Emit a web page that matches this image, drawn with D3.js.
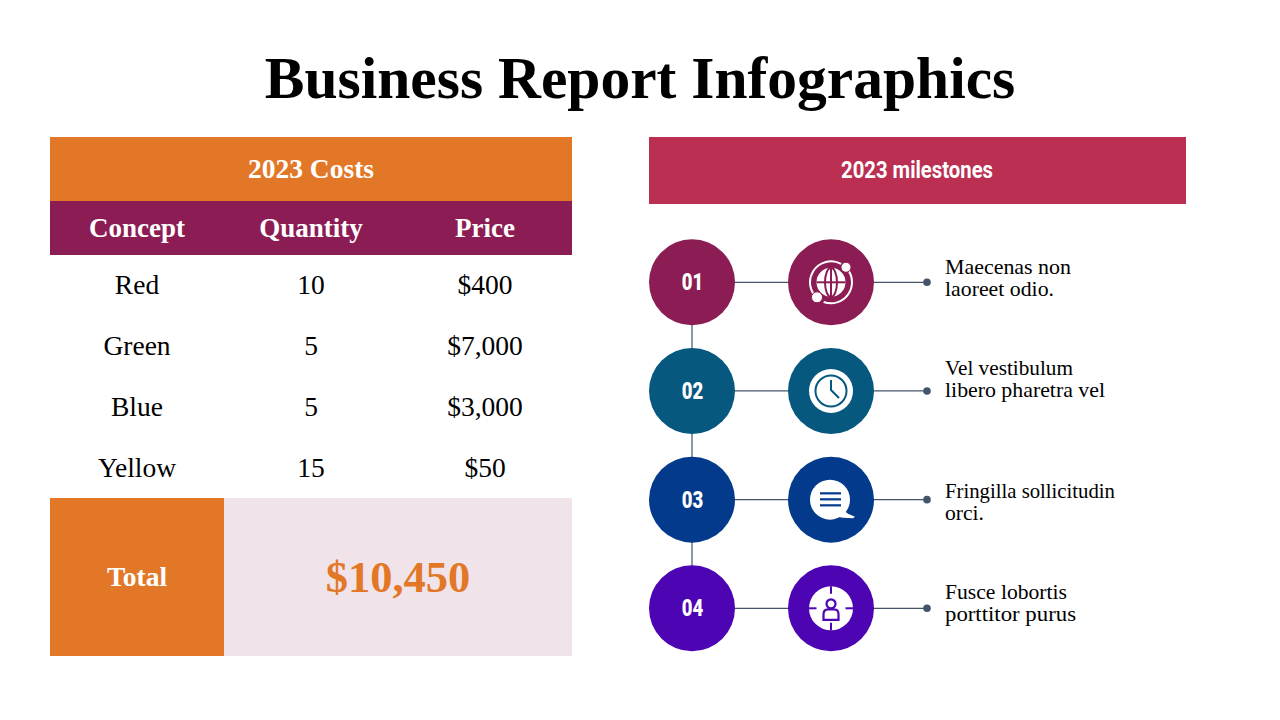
<!DOCTYPE html>
<html>
<head>
<meta charset="utf-8">
<script src="https://cdn.jsdelivr.net/npm/d3@7"></script>
<style>
html, body { margin: 0; padding: 0; background: #fff; }
svg { display: block; }
text { font-family: "Liberation Serif", serif; }
</style>
</head>
<body>
<svg id="chart" width="1280" height="720"></svg>
<script>
// table data
var columns = ["Concept", "Quantity", "Price"];
var concepts = ["Red", "Green", "Blue", "Yellow"];
var quantities = [10, 5, 5, 15];
var prices = [400, 7000, 3000, 50];
var totalCost = 10450;

// milestones data
var steps = ["01", "02", "03", "04"];
var stepColors = ["#8c1d54", "#07587f", "#033a8c", "#4d04b3"];
var stepText = [
    ["Maecenas non", "laoreet odio."],
    ["Vel vestibulum", "libero pharetra vel"],
    ["Fringilla sollicitudin", "orci."],
    ["Fusce lobortis", "porttitor purus"]
];

var ORANGE = "#e27827", PLUM = "#8c1d54", PINK = "#f0e4ea", ROSE = "#ba2f52", LINE = "#44546a";

var svg = d3.select("#chart");
var money = d3.format("$,");

svg.append("text")
    .attr("x", 640).attr("y", 98)
    .attr("text-anchor", "middle")
    .attr("font-size", 59.5).attr("font-weight", "bold")
    .text("Business Report Infographics");

// left table
var colX = d3.scaleBand().domain(columns).range([50, 572]);
var rowY = d3.scaleBand().domain(concepts).range([255, 498]);

svg.append("rect").attr("x", 50).attr("y", 137).attr("width", 522).attr("height", 64).attr("fill", ORANGE);
svg.append("rect").attr("x", 50).attr("y", 201).attr("width", 522).attr("height", 54).attr("fill", PLUM);

svg.append("text")
    .attr("x", 311).attr("y", 178)
    .attr("text-anchor", "middle").attr("fill", "#fff")
    .attr("font-size", 27.5).attr("font-weight", "bold")
    .text("2023 Costs");

svg.selectAll(".head").data(columns).enter().append("text")
    .attr("class", "head")
    .attr("x", function (d) { return colX(d) + colX.bandwidth() / 2; })
    .attr("y", 237)
    .attr("text-anchor", "middle").attr("fill", "#fff")
    .attr("font-size", 27).attr("font-weight", "bold")
    .text(function (d) { return d; });

var cells = [concepts, quantities, prices.map(function (p) { return money(p); })];
cells.forEach(function (col, i) {
    svg.selectAll(".c" + i).data(col).enter().append("text")
        .attr("class", "c" + i)
        .attr("x", colX(columns[i]) + colX.bandwidth() / 2)
        .attr("y", function (d, j) { return rowY(concepts[j]) + rowY.bandwidth() / 2 + 9; })
        .attr("text-anchor", "middle").attr("fill", "#000")
        .attr("font-size", 27.5)
        .text(function (d) { return d; });
});

// total row
svg.append("rect").attr("x", 50).attr("y", 498).attr("width", 174).attr("height", 158).attr("fill", ORANGE);
svg.append("rect").attr("x", 224).attr("y", 498).attr("width", 348).attr("height", 158).attr("fill", PINK);
svg.append("text")
    .attr("x", 137).attr("y", 586)
    .attr("text-anchor", "middle").attr("fill", "#fff")
    .attr("font-size", 27.5).attr("font-weight", "bold")
    .text("Total");
svg.append("text")
    .attr("x", 398).attr("y", 592)
    .attr("text-anchor", "middle").attr("fill", ORANGE)
    .attr("font-size", 44.5).attr("font-weight", "bold")
    .text(money(totalCost));

// right side
svg.append("rect").attr("x", 649).attr("y", 137).attr("width", 537).attr("height", 67).attr("fill", ROSE);
svg.append("text")
    .attr("x", 917).attr("y", 178)
    .attr("text-anchor", "middle").attr("fill", "#fff")
    .style("font-family", "Roboto")
    .attr("font-size", 23).attr("font-weight", "bold")
    .attr("textLength", 152).attr("lengthAdjust", "spacingAndGlyphs")
    .text("2023 milestones");

var y = d3.scalePoint().domain(steps).range([282.3, 608.3]);
var R = 43, X1 = 692, X2 = 831, DOT = 927;
var textShift = [-8, -16, -2, -9]; // the text blocks do not sit evenly on the rows
var textWidths = [[126, 109], [128, 160], [170, 39], [122, 131]]; // stops the fallback font running long

svg.append("line").attr("x1", X1).attr("x2", X1)
    .attr("y1", y("01")).attr("y2", y("04"))
    .attr("stroke", LINE).attr("stroke-width", 1.2);

var rows = svg.selectAll(".step").data(steps).enter().append("g")
    .attr("class", "step")
    .attr("transform", function (d) { return "translate(0," + y(d) + ")"; });

rows.append("line").attr("x1", X1).attr("x2", DOT).attr("stroke", LINE).attr("stroke-width", 1.2);
rows.append("circle").attr("cx", DOT).attr("r", 3.8).attr("fill", LINE);
rows.append("circle").attr("cx", X1).attr("r", R).attr("fill", function (d, i) { return stepColors[i]; });
rows.append("circle").attr("cx", X2).attr("r", R).attr("fill", function (d, i) { return stepColors[i]; });

rows.append("text")
    .attr("x", X1 + 0.5).attr("y", 8)
    .attr("text-anchor", "middle").attr("fill", "#fff")
    .style("font-family", "Roboto")
    .attr("font-size", 23).attr("font-weight", 900)
    .attr("textLength", 21.5).attr("lengthAdjust", "spacingAndGlyphs")
    .text(function (d) { return d; });

rows.each(function (d, i) {
    var row = d3.select(this);
    stepText[i].forEach(function (s, k) {
        row.append("text")
            .attr("x", 945).attr("y", textShift[i] + k * 22)
            .attr("font-size", 21.8).attr("fill", "#000")
            .attr("textLength", textWidths[i][k]).attr("lengthAdjust", "spacingAndGlyphs")
            .text(s);
    });
});

// icons, drawn around the centre of each second circle
var icons = rows.append("g").attr("transform", "translate(" + X2 + ",0)");
var ring = d3.arc();

// 01 globe
var g1 = d3.select(icons.nodes()[0]);
g1.append("circle").attr("r", 14.5).attr("fill", "#fff");
g1.append("ellipse").attr("rx", 6).attr("ry", 14.5).attr("fill", "none").attr("stroke", PLUM).attr("stroke-width", 2);
g1.append("line").attr("y1", -14.5).attr("y2", 14.5).attr("stroke", PLUM).attr("stroke-width", 2);
g1.append("line").attr("x1", -14.5).attr("x2", 14.5).attr("stroke", PLUM).attr("stroke-width", 2);
g1.append("path").attr("fill", "#fff")
    .attr("d", ring({ innerRadius: 20, outerRadius: 22, startAngle: -2.5, endAngle: 0.5 }));
g1.append("path").attr("fill", "#fff")
    .attr("d", ring({ innerRadius: 20, outerRadius: 22, startAngle: 0.9, endAngle: 3.5 }));
g1.append("circle").attr("cx", 15).attr("cy", -15).attr("r", 5).attr("fill", "#fff").attr("stroke", PLUM).attr("stroke-width", 1);
g1.append("circle").attr("cx", -14).attr("cy", 15).attr("r", 5.5).attr("fill", "#fff").attr("stroke", PLUM).attr("stroke-width", 1);

// 02 clock
var g2 = d3.select(icons.nodes()[1]);
g2.append("circle").attr("r", 22).attr("fill", "#fff");
g2.append("circle").attr("r", 15.5).attr("fill", "none").attr("stroke", stepColors[1]).attr("stroke-width", 2);
g2.append("path").attr("d", "M0,-11V-1L8,7").attr("fill", "none").attr("stroke", stepColors[1]).attr("stroke-width", 2);

// 03 speech bubble
var g3 = d3.select(icons.nodes()[2]);
g3.append("circle").attr("cx", -1).attr("r", 20).attr("fill", "#fff");
g3.append("path").attr("d", "M12,10L17,14L24,17L22,18.5L12,18L6,17Z").attr("fill", "#fff");
[-6.3, -0.3, 5.7].forEach(function (dy) {
    g3.append("rect").attr("x", -11).attr("y", dy - 1.1).attr("width", 21).attr("height", 2.2).attr("fill", stepColors[2]);
});

// 04 target with person
var g4 = d3.select(icons.nodes()[3]);
g4.append("circle").attr("r", 22).attr("fill", "#fff");
[[0, -22, 0, -14.5], [0, 14.5, 0, 22], [-22, 0, -14.5, 0], [14.5, 0, 22, 0]].forEach(function (s) {
    g4.append("line").attr("x1", s[0]).attr("y1", s[1]).attr("x2", s[2]).attr("y2", s[3])
        .attr("stroke", stepColors[3]).attr("stroke-width", 2);
});
g4.append("circle").attr("cy", -4.5).attr("r", 4.5).attr("fill", "none").attr("stroke", stepColors[3]).attr("stroke-width", 2.2);
g4.append("path").attr("d", "M-7.5,11.5V6Q-7.5,1,-3,1H3Q7.5,1,7.5,6V11.5Z").attr("fill", "none").attr("stroke", stepColors[3]).attr("stroke-width", 2.2);
</script>
</body>
</html>
